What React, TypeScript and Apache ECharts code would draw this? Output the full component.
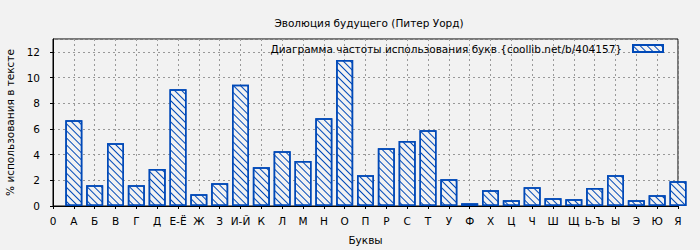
import React, { useEffect, useRef } from "react";
import * as echarts from "echarts";

const titleText = "Эволюция будущего (Питер Уорд)";
const seriesName = "Диаграмма частоты использования букв {coollib.net/b/404157}";
const xAxisName = "Буквы";
const yAxisName = "% использования в тексте";

const letters = [
  "А", "Б", "В", "Г", "Д", "Е-Ё", "Ж", "З", "И-Й", "К",
  "Л", "М", "Н", "О", "П", "Р", "С", "Т", "У", "Ф",
  "Х", "Ц", "Ч", "Ш", "Щ", "Ь-Ъ", "Ы", "Э", "Ю", "Я",
];
const values = [
  6.68, 1.61, 4.88, 1.61, 2.88, 9.09, 0.91, 1.77, 9.43, 3.01,
  4.26, 3.51, 6.83, 11.36, 2.39, 4.49, 5.06, 5.9, 2.08, 0.21,
  1.22, 0.44, 1.45, 0.6, 0.52, 1.4, 2.39, 0.44, 0.83, 1.92,
];

const BLUE = "#0049b8";
const BG = "#f2f2f2";
const FONT = "DejaVu Sans";
const FS = 10.5;
const GRID_LINE = { color: "#999999", type: [2, 3], width: 1 };

export default function App() {
  const ref = useRef<HTMLDivElement>(null);
  useEffect(() => {
    document.body.style.margin = "0";
    if (!ref.current) return;
    const chart = echarts.init(ref.current, null, { renderer: "svg" });
    const decal = {
      symbol: "rect",
      symbolSize: 1,
      color: BLUE,
      backgroundColor: BG,
      dashArrayX: [1, 0],
      dashArrayY: [1, 3.3],
      rotation: Math.PI / 4,
    };
    chart.setOption({
      animation: false,
      backgroundColor: BG,
      textStyle: { fontFamily: FONT },
      title: {
        text: titleText,
        left: 364,
        top: 12,
        textAlign: "center",
        textStyle: { fontSize: FS, fontWeight: "normal", color: "#000", fontFamily: FONT },
      },
      legend: {
        right: 31,
        top: 38,
        align: "right",
        itemWidth: 30,
        itemHeight: 7,
        itemGap: 10,
        textStyle: { fontSize: FS, color: "#000", fontFamily: FONT, padding: [0, 6, 0, 0] },
        data: [{ name: seriesName, icon: "rect" }],
      },
      grid: {
        left: 53,
        right: 22,
        top: 39,
        bottom: 44,
        show: true,
        borderColor: "#000",
        borderWidth: 1,
        backgroundColor: "transparent",
        outerBoundsMode: "none",
        containLabel: false,
      },
      xAxis: {
        type: "value",
        min: 0,
        max: letters.length,
        interval: 1,
        name: xAxisName,
        nameLocation: "middle",
        nameGap: 28,
        nameTextStyle: { fontSize: FS, color: "#000", fontFamily: FONT },
        axisLine: { show: true, lineStyle: { color: "#000", width: 1 } },
        axisTick: { show: true, length: 3, lineStyle: { color: "#000" } },
        axisLabel: {
          fontSize: FS,
          color: "#000",
          margin: 9,
          fontFamily: FONT,
          formatter: (v: number) => (v === 0 ? "0" : letters[v - 1] ?? ""),
        },
        splitLine: { show: true, lineStyle: GRID_LINE },
      },
      yAxis: {
        type: "value",
        min: 0,
        max: 13,
        interval: 2,
        name: yAxisName,
        nameLocation: "middle",
        nameGap: 37,
        nameTextStyle: { fontSize: FS, color: "#000", fontFamily: FONT },
        axisLine: { show: true, lineStyle: { color: "#000", width: 1 } },
        axisTick: { show: true, length: 3, lineStyle: { color: "#000" } },
        axisLabel: {
          fontSize: FS,
          color: "#000",
          margin: 13,
          fontFamily: FONT,
          showMaxLabel: false,
          formatter: (v: number) => (v % 2 === 0 ? String(v) : ""),
        },
        splitLine: { show: true, lineStyle: GRID_LINE },
      },
      series: [
        {
          name: seriesName,
          type: "bar",
          barWidth: 17,
          clip: true,
          data: values.map((v, i) => [i + 1, v]),
          itemStyle: {
            color: BG,
            borderColor: BLUE,
            borderWidth: 1.5,
            decal,
          },
        },
      ],
    });
    return () => chart.dispose();
  }, []);
  return <div ref={ref} style={{ width: 700, height: 250 }} />;
}
